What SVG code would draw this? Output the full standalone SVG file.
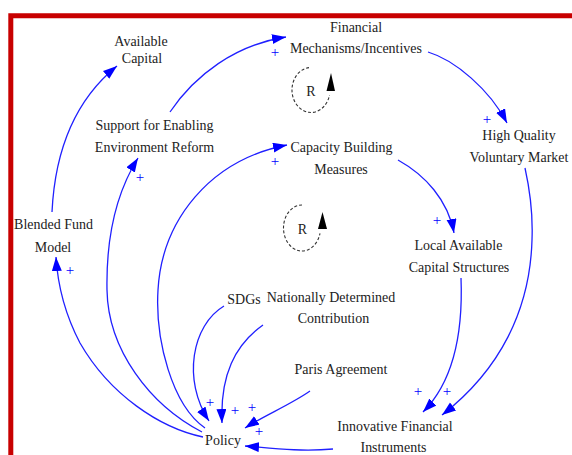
<svg xmlns="http://www.w3.org/2000/svg" width="572" height="455" viewBox="0 0 572 455">
<style>
.lbl{font-family:"Liberation Serif","Times New Roman",serif;font-size:14px;fill:#222;text-anchor:middle;transform-box:fill-box;transform-origin:center;transform:scaleY(1.1)}
.lk{fill:none;stroke:#2020ff;stroke-width:1.3;marker-end:url(#ah)}
.pol{font-family:"Liberation Serif","Times New Roman",serif;font-size:15px;fill:#0000ff;text-anchor:middle}
.loop{fill:none;stroke:#333;stroke-width:1.1;stroke-dasharray:3 2}
.lh{fill:#000}
</style>
<defs>
<marker id="ah" markerUnits="userSpaceOnUse" markerWidth="15" markerHeight="11" refX="14" refY="5" orient="auto">
<path d="M0,0 L14,5 L0,10 z" fill="#0000ff"/>
</marker>
</defs>
<rect width="572" height="455" fill="#fff"/>
<path d="M10.8 455 V15.8 H572" fill="none" stroke="#c80000" stroke-width="5"/>

<g id="connectors">
<path class="lk" d="M52 212 C55 150,75 100,117 66"/>
<path class="lk" d="M203 437 C160 428,110 395,80 343 C68 320,58 290,56 257"/>
<path class="lk" d="M202 432 C150 405,108 350,107 290 C106 235,118 190,138 158"/>
<path class="lk" d="M170 112 C195 75,235 45,286 37"/>
<path class="lk" d="M428 52 C455 60,490 90,507 123"/>
<path class="lk" d="M525 168 C531 195,533 215,532 240 C530 310,500 370,442 415"/>
<path class="lk" d="M205 428 C172 405,155 340,158 290 C162 220,210 160,287 145"/>
<path class="lk" d="M398 160 C425 175,448 200,454 233"/>
<path class="lk" d="M461 278 C463 330,455 380,423 412"/>
<path class="lk" d="M224 306 C192 325,182 380,209 421"/>
<path class="lk" d="M263 325 C235 345,220 375,222 423"/>
<path class="lk" d="M310 391 C290 405,265 415,245 428"/>
<path class="lk" d="M333 449 C300 452,270 448,245 446"/>
</g>

<g id="polarities">
<text class="pol" x="70" y="275">+</text>
<text class="pol" x="140" y="182">+</text>
<text class="pol" x="275" y="57">+</text>
<text class="pol" x="275" y="166">+</text>
<text class="pol" x="487" y="124">+</text>
<text class="pol" x="437" y="225">+</text>
<text class="pol" x="418" y="396">+</text>
<text class="pol" x="447" y="396">+</text>
<text class="pol" x="210" y="407">+</text>
<text class="pol" x="235" y="415">+</text>
<text class="pol" x="252" y="412">+</text>
<text class="pol" x="259" y="436">+</text>
</g>

<g id="loop-r1">
<path class="loop" d="M309 67.6 A19 22.5 0 1 0 329.5 95"/>
<polygon class="lh" points="331,73 326.5,91 335,91"/>
<text class="lbl" x="311" y="96">R</text>
</g>
<g id="loop-r2">
<path class="loop" d="M302 205 A18.5 23 0 1 0 320 233.3"/>
<polygon class="lh" points="322.5,212 318,229 327,229"/>
<text class="lbl" x="302.5" y="234">R</text>
</g>

<g id="available-capital"><text class="lbl" x="141" y="46">Available</text><text class="lbl" x="142" y="62.5">Capital</text></g>
<g id="financial-mechanisms"><text class="lbl" x="356" y="32">Financial</text><text class="lbl" x="356" y="53">Mechanisms/Incentives</text></g>
<g id="support-reform"><text class="lbl" x="154.5" y="130">Support for Enabling</text><text class="lbl" x="154.5" y="152">Environment Reform</text></g>
<g id="capacity-building"><text class="lbl" x="341.5" y="152">Capacity Building</text><text class="lbl" x="341" y="174">Measures</text></g>
<g id="high-quality-market"><text class="lbl" x="519" y="140">High Quality</text><text class="lbl" x="519" y="162">Voluntary Market</text></g>
<g id="blended-fund"><text class="lbl" x="53.5" y="229">Blended Fund</text><text class="lbl" x="53" y="252">Model</text></g>
<g id="local-capital"><text class="lbl" x="458.5" y="250">Local Available</text><text class="lbl" x="459" y="272">Capital Structures</text></g>
<g id="sdgs"><text class="lbl" x="244" y="304">SDGs</text></g>
<g id="ndc"><text class="lbl" x="331" y="302">Nationally Determined</text><text class="lbl" x="333.5" y="323">Contribution</text></g>
<g id="paris"><text class="lbl" x="341" y="374">Paris Agreement</text></g>
<g id="policy"><text class="lbl" x="223" y="445">Policy</text></g>
<g id="innovative"><text class="lbl" x="395" y="431">Innovative Financial</text><text class="lbl" x="393.5" y="452">Instruments</text></g>
</svg>
